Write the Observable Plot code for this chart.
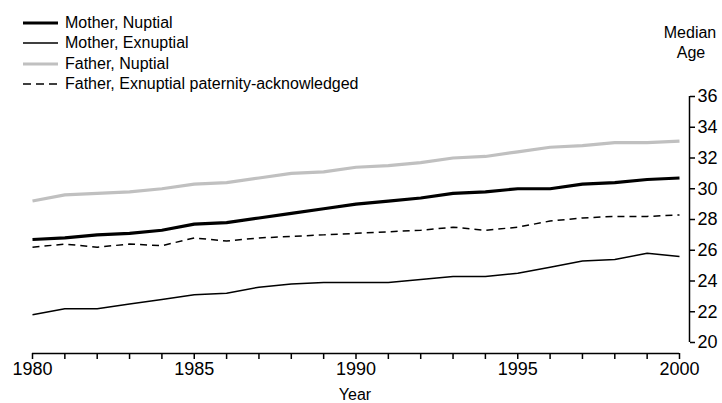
<!DOCTYPE html>
<html>
<head>
<meta charset="utf-8">
<script src="https://cdn.jsdelivr.net/npm/d3@7"></script>
<script src="https://cdn.jsdelivr.net/npm/@observablehq/plot@0.6"></script>
<style>
  html, body { margin: 0; padding: 0; background: #fff; }
  #wrap { position: relative; width: 722px; height: 403px; font-family: "Liberation Sans", Arial, sans-serif; color: #000; }
  .lbl { position: absolute; white-space: nowrap; line-height: 1; }
  #legend { position: absolute; left: 23px; top: 13px; font-size: 16px; }
  .row { display: flex; align-items: center; height: 20.3px; }
  .row svg { margin-right: 7px; }
</style>
</head>
<body>
<div id="wrap">
  <div id="legend"></div>
  <div class="lbl" style="left:662px; top:25px; font-size:16px; width:56px; text-align:center;">Median</div>
  <div class="lbl" style="left:662px; top:45px; font-size:16px; width:58px; text-align:center;">Age</div>
  <div class="lbl" style="left:305px; top:387px; font-size:16px; width:100px; text-align:center;">Year</div>
</div>
<script>
const years = [1980,1981,1982,1983,1984,1985,1986,1987,1988,1989,1990,1991,1992,1993,1994,1995,1996,1997,1998,1999,2000];
const motherNuptial   = [26.7,26.8,27.0,27.1,27.3,27.7,27.8,28.1,28.4,28.7,29.0,29.2,29.4,29.7,29.8,30.0,30.0,30.3,30.4,30.6,30.7];
const motherExnuptial = [21.8,22.2,22.2,22.5,22.8,23.1,23.2,23.6,23.8,23.9,23.9,23.9,24.1,24.3,24.3,24.5,24.9,25.3,25.4,25.8,25.6];
const fatherNuptial   = [29.2,29.6,29.7,29.8,30.0,30.3,30.4,30.7,31.0,31.1,31.4,31.5,31.7,32.0,32.1,32.4,32.7,32.8,33.0,33.0,33.1];
const fatherExnuptial = [26.2,26.4,26.2,26.4,26.3,26.8,26.6,26.8,26.9,27.0,27.1,27.2,27.3,27.5,27.3,27.5,27.9,28.1,28.2,28.2,28.3];
const yTicks = [20,22,24,26,28,30,32,34,36];
const seriesNames = ["Mother, Nuptial","Mother, Exnuptial","Father, Nuptial","Father, Exnuptial paternity-acknowledged"];

const styles = [
  {stroke: "#000", strokeWidth: 3.2, dash: null},
  {stroke: "#000", strokeWidth: 1.5, dash: null},
  {stroke: "#c0c0c0", strokeWidth: 3.2, dash: null},
  {stroke: "#000", strokeWidth: 1.5, dash: "7,5"}
];

function lineMark(vals, st) {
  return Plot.line(years, {
    x: d => d,
    y: (d, i) => vals[i],
    stroke: st.stroke,
    strokeWidth: st.strokeWidth,
    strokeDasharray: st.dash,
    strokeLinejoin: "round",
    strokeLinecap: "butt"
  });
}

const chart = Plot.plot({
  width: 722,
  height: 403,
  marginTop: 96,
  marginBottom: 61,
  marginLeft: 32,
  marginRight: 43,
  style: {fontFamily: '"Liberation Sans", Arial, sans-serif', fontSize: "18px", color: "#000", background: "transparent", overflow: "visible"},
  x: {domain: [1980, 2000]},
  y: {domain: [20, 36]},
  marks: [
    Plot.ruleX([2000], {y1: 20, y2: 36, dx: 10, stroke: "#000", strokeWidth: 1.5}),
    Plot.ruleY([20], {x1: 1980, x2: 2000, dy: 11, stroke: "#000", strokeWidth: 1.5}),
    Plot.axisY({anchor: "right", ticks: yTicks, tickSize: 5, tickPadding: 3, dx: 10, strokeWidth: 1.5, label: null, fill: "#000"}),
    Plot.axisX({anchor: "bottom", ticks: years, tickSize: 6, tickPadding: 3, dy: 11, strokeWidth: 1.5, label: null,
      tickFormat: d => d % 5 === 0 ? String(d) : "", fill: "#000"}),
    lineMark(fatherNuptial, styles[2]),
    lineMark(fatherExnuptial, styles[3]),
    lineMark(motherExnuptial, styles[1]),
    lineMark(motherNuptial, styles[0])
  ]
});
chart.style.position = "absolute";
chart.style.left = "0px";
chart.style.top = "0px";
const wrap = document.getElementById("wrap");
wrap.insertBefore(chart, wrap.firstChild);

const legend = document.getElementById("legend");
seriesNames.forEach((name, i) => {
  const st = styles[i];
  const row = document.createElement("div");
  row.className = "row";
  row.innerHTML = `<svg width="35" height="6"><line x1="0" y1="3" x2="35" y2="3" stroke="${st.stroke}" stroke-width="${st.strokeWidth}" ${st.dash ? `stroke-dasharray="8,5"` : ""}/></svg><span>${name}</span>`;
  legend.appendChild(row);
});
</script>
</body>
</html>
